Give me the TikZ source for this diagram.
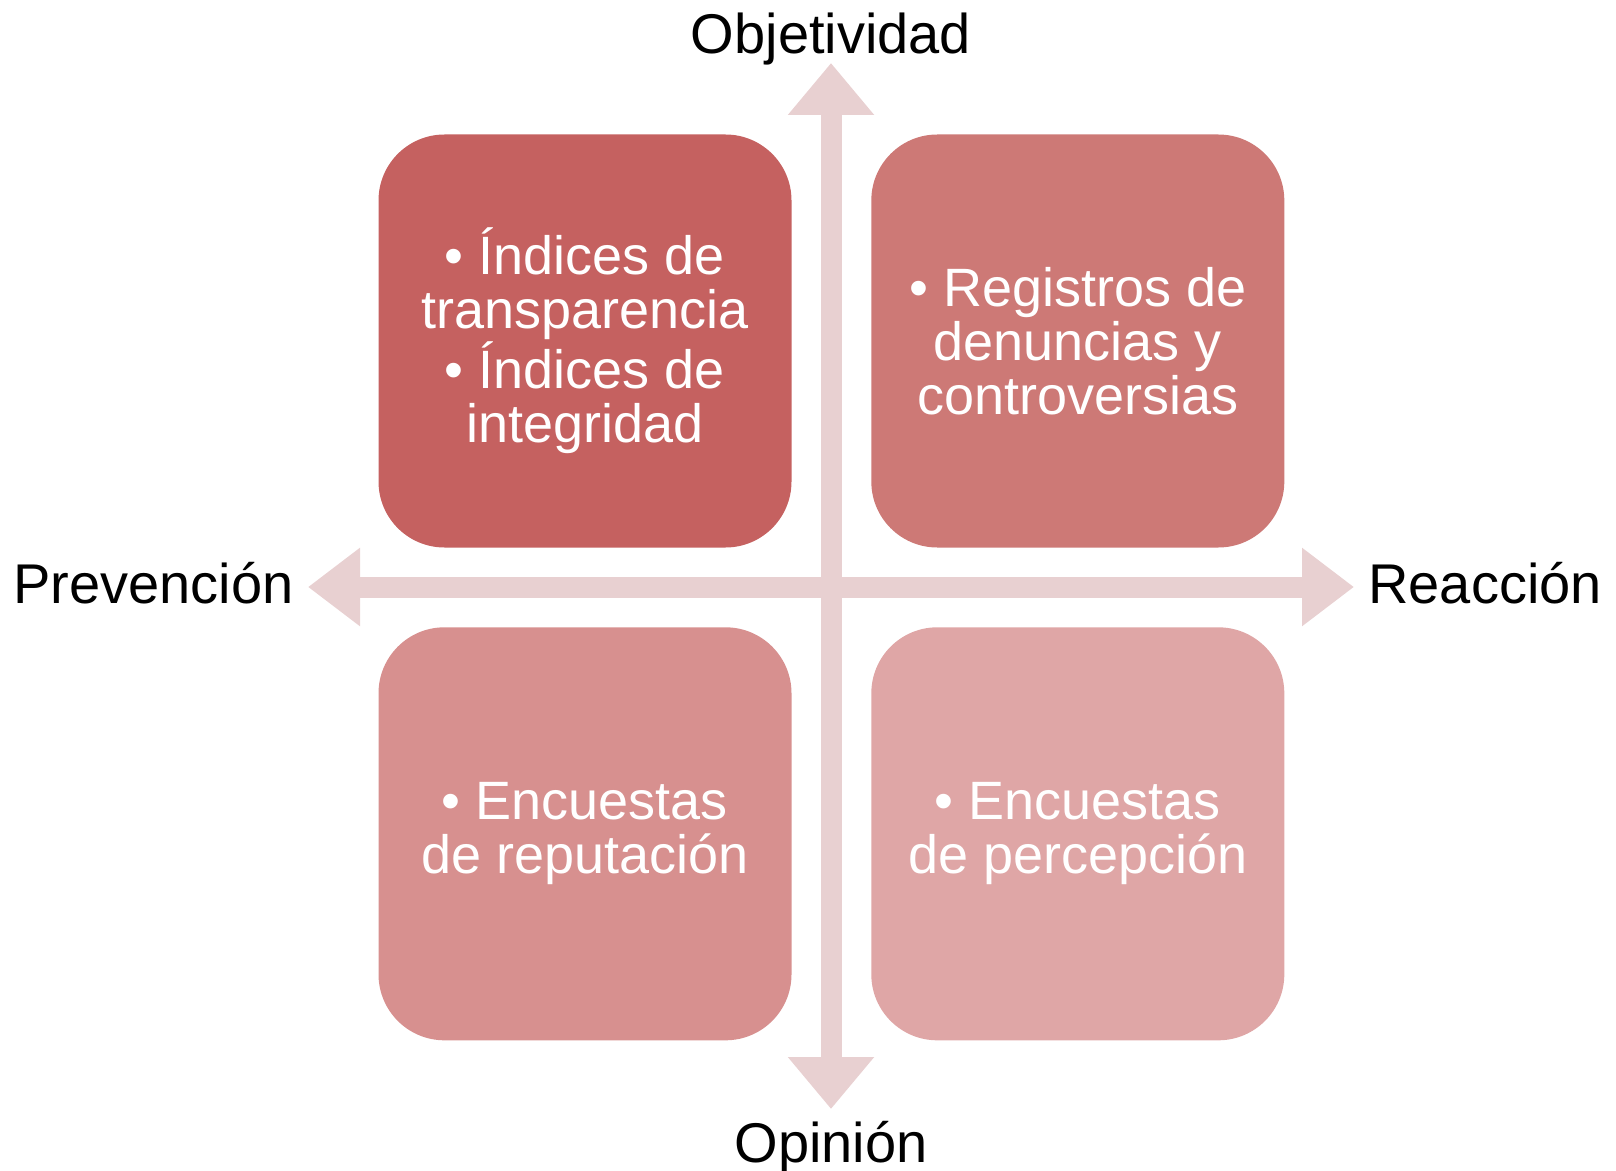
\documentclass[tikz,border=0pt]{standalone}
\usepackage{fontspec}
\setmainfont{Liberation Sans}
\usetikzlibrary{positioning, arrows.meta, calc}
\definecolor{axispink}{RGB}{232,208,209}
\definecolor{quadA}{RGB}{197,97,96}
\definecolor{quadB}{RGB}{205,121,118}
\definecolor{quadC}{RGB}{215,144,143}
\definecolor{quadD}{RGB}{223,166,166}

\begin{document}
\begin{tikzpicture}[
    x=0.5pt, y=-0.5pt,
    % Quadrant boxes
    quad/.style={rounded corners=33pt, minimum width=206.5pt, minimum height=206.5pt,
        inner sep=0pt, text=white, align=center, font=\fontsize{27}{27}\selectfont},
    % Axis labels and arrows
    axislabel/.style={inner sep=0pt, font=\fontsize{28}{30}\selectfont},
    axisarrow/.style={line width=10.5pt, draw=axispink},
]
\useasboundingbox (0,0) rectangle (1616,1171);

% Axis end points
\coordinate (axis-w) at (308,587);
\coordinate (axis-e) at (1354,587);
\coordinate (axis-n) at (831,63);
\coordinate (axis-s) at (831,1109);

% Axes
\draw[axisarrow, {Triangle[length=26pt, width=37.5pt]}-{Triangle[length=26pt, width=37.5pt]}] (axis-w) -- (axis-e);
\draw[axisarrow, {Triangle[length=26pt, width=41.5pt]}-{Triangle[length=26pt, width=41.5pt]}] (axis-n) -- (axis-s);

% Quadrants
\node[quad, fill=quadA] (tl) at (585,341) {\textbullet\ Índices de\\ transparencia\\[0pt] \textbullet\ Índices de\\ integridad};
\node[quad, fill=quadB, right=39.5pt of tl] (tr) {\textbullet\ Registros de\\ denuncias y\\ controversias};
\node[quad, fill=quadC, below=39.5pt of tl] (bl) {\textbullet\ Encuestas\\ de reputación};
\node[quad, fill=quadD, below=39.5pt of tr] (br) {\textbullet\ Encuestas\\ de percepción};

% Axis labels
\node[axislabel, left=7pt of axis-w, yshift=2pt] (prevencion) {Prevención};
\node[axislabel, right=7pt of axis-e, yshift=2pt] (reaccion) {Reacción};
\node[axislabel, anchor=base] (objetividad) at ($(axis-n)+(0,-9)$) {Objetividad};
\node[axislabel, anchor=base] (opinion) at ($(axis-s)+(0,53)$) {Opinión};

\end{tikzpicture}
\end{document}
